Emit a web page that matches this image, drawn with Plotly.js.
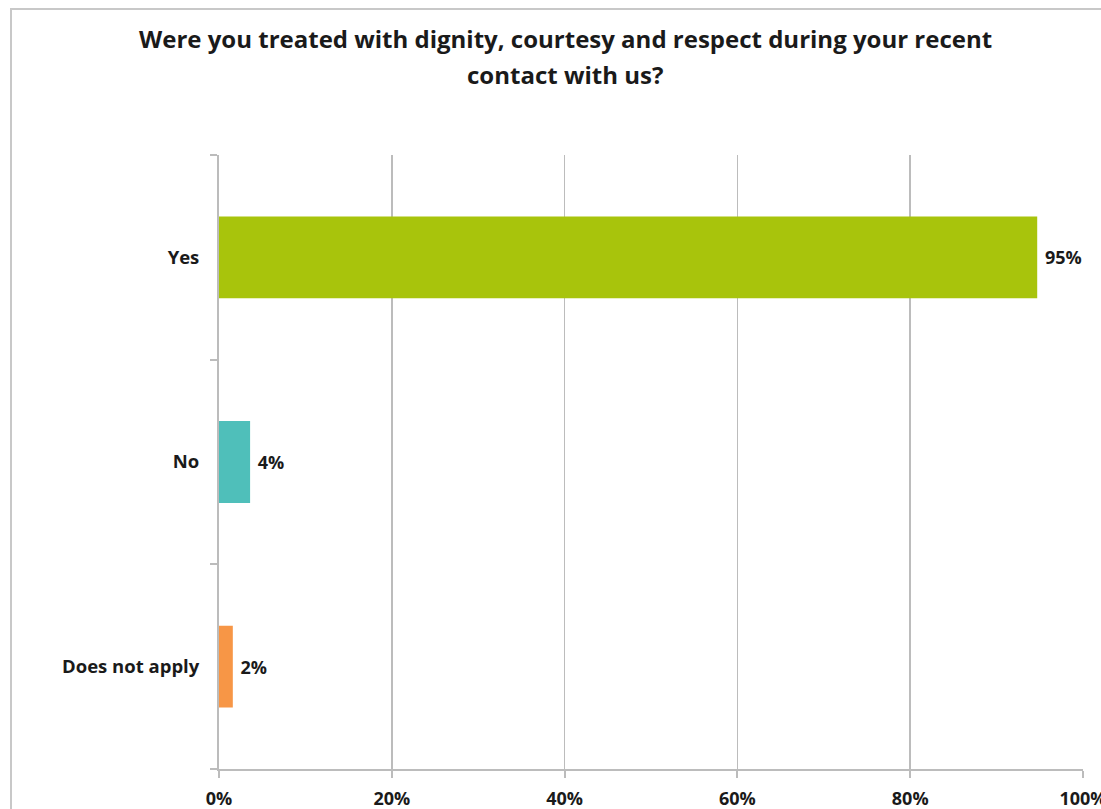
<!DOCTYPE html>
<html>
<head>
<meta charset="utf-8">
<script src="https://cdn.plot.ly/plotly-3.0.1.min.js"></script>
<style>
  html, body { margin: 0; padding: 0; background: #ffffff; }
  #wrap { position: relative; width: 1101px; height: 809px; overflow: hidden; }
  #frame { position: absolute; left: 10px; top: 8px; right: -5px; bottom: -5px; border-left: 2px solid #c8c8c8; border-top: 2px solid #c8c8c8; pointer-events: none; }
  #chart { position: absolute; left: 0; top: 0; width: 1101px; height: 809px; }
</style>
</head>
<body>
<div id="wrap">
  <div id="chart"></div>
  <div id="frame"></div>
</div>
<script>
const categories = ['Yes', 'No', 'Does not apply'];
const values = [94.7, 3.6, 1.6];
const colors = ['#A8C40C', '#4FBFBA', '#F79646'];
const xTickValues = [0, 20, 40, 60, 80, 100];
const xTickLabels = ['0%', '20%', '40%', '60%', '80%', '100%'];
const titleLines = ['Were you treated with dignity, courtesy and respect during your recent', 'contact with us?'];

const fontFamily = '"Open Sans", sans-serif';

const trace = {
  type: 'bar',
  orientation: 'h',
  y: categories,
  x: values,
  marker: { color: colors },
  width: 0.4,
  texttemplate: '<b> %{x:.0f}%</b>',
  textposition: 'outside',
  cliponaxis: false,
  textfont: { family: fontFamily, size: 18, color: '#1a1a1a' },
  hoverinfo: 'skip'
};

const titleCentersPx = [39, 75];

const layout = {
  width: 1101,
  height: 809,
  margin: { l: 219, r: 18, t: 155, b: 40 },
  paper_bgcolor: '#ffffff',
  plot_bgcolor: '#ffffff',
  showlegend: false,
  annotations: titleLines.map((line, i) => ({
    text: '<b>' + line + '</b>',
    xref: 'paper', yref: 'paper',
    x: (565 - 219) / 864,
    y: (769 - titleCentersPx[i]) / 614,
    xanchor: 'center', yanchor: 'middle',
    showarrow: false,
    font: { family: fontFamily, size: 24, color: '#1a1a1a' }
  })),
  xaxis: {
    range: [0, 100],
    tickvals: xTickValues,
    ticktext: xTickLabels.map(t => '<b>' + t + '</b>'),
    showgrid: true,
    gridcolor: '#bcbcbc',
    gridwidth: 1.5,
    zeroline: false,
    showline: true,
    linecolor: '#bcbcbc',
    linewidth: 2,
    ticks: 'outside',
    ticklen: 7,
    tickcolor: '#bcbcbc',
    tickwidth: 2,
    ticklabelstandoff: 5,
    ticklabeloverflow: 'allow',
    tickfont: { family: fontFamily, size: 18, color: '#1a1a1a' },
    fixedrange: true
  },
  yaxis: {
    type: 'category',
    categoryorder: 'array',
    categoryarray: categories.slice().reverse(),
    tickson: 'boundaries',
    ticks: 'outside',
    ticklen: 7,
    tickcolor: '#bcbcbc',
    tickwidth: 2,
    showline: true,
    linecolor: '#bcbcbc',
    linewidth: 2,
    showgrid: false,
    zeroline: false,
    ticklabelstandoff: 14,
    tickfont: { family: fontFamily, size: 18.5, color: '#1a1a1a' },
    ticktext: categories.slice().reverse().map(c => '<b>' + c + '</b>'),
    tickvals: categories.slice().reverse(),
    fixedrange: true
  },
  bargap: 0.6
};

Plotly.newPlot('chart', [trace], layout, { displayModeBar: false, staticPlot: true });
</script>
</body>
</html>
